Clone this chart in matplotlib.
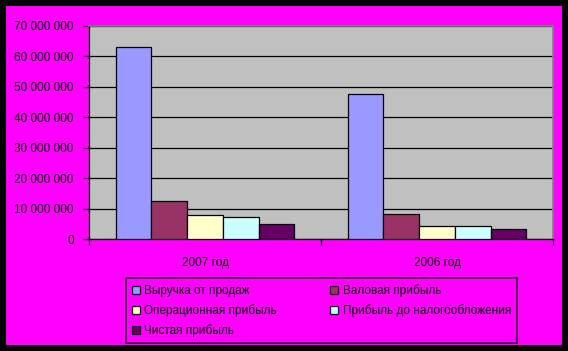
import matplotlib.pyplot as plt
import matplotlib.patches as mpatches
from matplotlib.ticker import FuncFormatter
import numpy as np

plt.rcParams['font.family'] = ['Liberation Sans', 'DejaVu Sans']

categories = ['2007 год', '2006 год']
series = ['Выручка от продаж', 'Валовая прибыль', 'Операционная прибыль',
          'Прибыль до налогообложения', 'Чистая прибыль']
values = [
    [63000000, 47600000],
    [12400000, 8200000],
    [7900000, 4200000],
    [7100000, 4200000],
    [4900000, 3300000],
]
colors = ['#9999FF', '#993366', '#FFFFCC', '#CCFFFF', '#660066']

fig = plt.figure(figsize=(5.68, 3.51), dpi=100, facecolor='black')
fig.patches.append(mpatches.Rectangle((6 / 568, 6 / 351), 556 / 568, 339 / 351,
                                      transform=fig.transFigure, facecolor='#FF00FF',
                                      edgecolor='none', zorder=-5))

ax = fig.add_axes([89 / 568, 1 - 239 / 351, 464 / 568, 213 / 351])
ax.set_facecolor('#C0C0C0')

bw = 1 / 6.5
x = np.arange(len(categories))
handles = []
for i, (name, vals, c) in enumerate(zip(series, values, colors)):
    pos = x - 0.5 + 0.75 * bw + i * bw + bw / 2
    h = ax.bar(pos, vals, width=bw, color=c, edgecolor='black', linewidth=0.9,
               label=name, zorder=3)
    handles.append(h)

ax.set_xlim(-0.5, 1.5)
ax.set_ylim(0, 70000000)
ax.set_yticks(np.arange(0, 70000001, 10000000))
ax.yaxis.set_major_formatter(FuncFormatter(lambda v, p: f'{int(v):,}'.replace(',', ' ')))
ax.yaxis.grid(True, color='black', linewidth=0.9, zorder=1)
ax.set_axisbelow(True)

ax.set_xticks(x)
ax.set_xticklabels(categories)
ax.set_xticks([-0.5, 0.5, 1.5], minor=True)
ax.tick_params(axis='x', which='major', length=0, pad=13, labelsize=8.5)
ax.tick_params(axis='x', which='minor', length=4, width=0.9, direction='out')
ax.tick_params(axis='y', length=4, width=0.9, direction='out', labelsize=8.5, pad=7)

for s in ['top', 'right']:
    ax.spines[s].set_color('#808080')
    ax.spines[s].set_linewidth(1.2)
ax.spines['left'].set_linewidth(0.9)
ax.spines['bottom'].set_linewidth(0.9)

order = [0, 2, 4, 1, 3]
leg = fig.legend([handles[i] for i in order], [series[i] for i in order],
                 loc='lower left', ncol=2, mode='expand',
                 bbox_to_anchor=(126 / 568, 1 - 343 / 351, 391 / 568, 63 / 351),
                 fontsize=8.5, frameon=True, fancybox=False, handlelength=0.65,
                 handleheight=0.65, handletextpad=0.4, borderaxespad=0,
                 labelspacing=0.6, columnspacing=1.0, borderpad=0.5)
leg.get_frame().set_facecolor('#FF00FF')
leg.get_frame().set_edgecolor('black')
leg.get_frame().set_linewidth(1.2)

fig.savefig('out.png', dpi=100, facecolor='black')
